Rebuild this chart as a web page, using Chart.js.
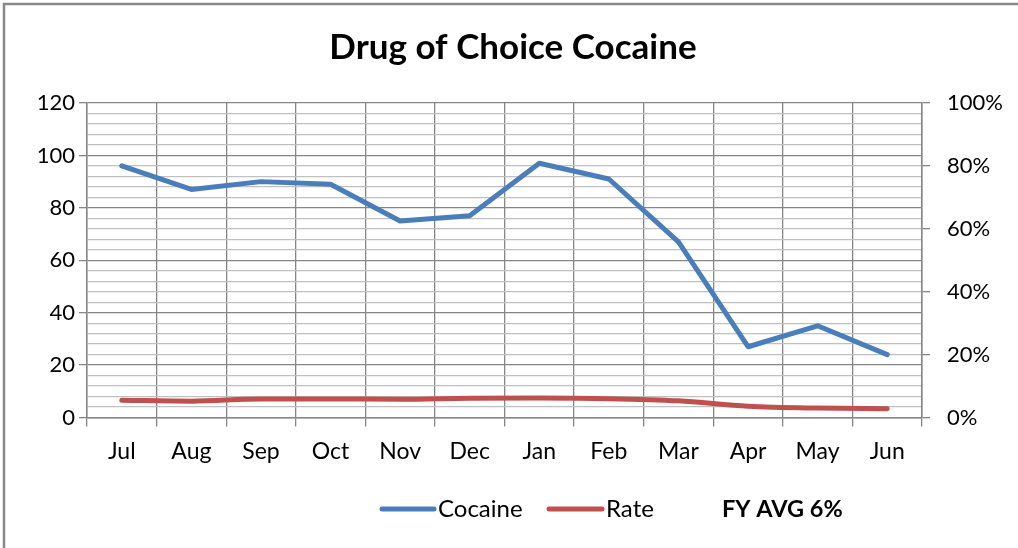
<!DOCTYPE html>
<html>
<head>
<meta charset="utf-8">
<script src="https://cdn.jsdelivr.net/npm/chart.js@4/dist/chart.umd.min.js"></script>
<style>
  html, body { margin: 0; padding: 0; background: #fff; }
  #wrap { position: relative; width: 1018px; height: 548px; }
  canvas { display: block; }
</style>
</head>
<body>
<div id="wrap"><canvas id="c" width="1018" height="548"></canvas></div>
<script>
const months = ["Jul", "Aug", "Sep", "Oct", "Nov", "Dec", "Jan", "Feb", "Mar", "Apr", "May", "Jun"];
const cocaine = [96, 87, 90, 89, 75, 77, 97, 91, 67, 27, 35, 24];
const ratePct = [5.5, 5.2, 5.9, 5.9, 5.8, 6.1, 6.2, 6.0, 5.3, 3.6, 3.0, 2.8];
const chartTitle = "Drug of Choice Cocaine";
const legendNote = "FY AVG 6%";
const seriesNames = ["Cocaine", "Rate"];

const FONT = "Lato, 'Open Sans', sans-serif";
const BLUE = "#4a7ebb";
const RED = "#c0504d";
const MAJOR = "#868686";
const MINOR = "#c0c0c0";

const decor = {
  id: "decor",
  beforeDraw(chart) {
    const ctx = chart.ctx;
    ctx.save();
    ctx.fillStyle = "#fff";
    ctx.fillRect(0, 0, chart.width, chart.height);
    ctx.strokeStyle = "#888";
    ctx.lineWidth = 2.5;
    ctx.beginPath();
    ctx.moveTo(4, chart.height + 5);
    ctx.lineTo(4, 4);
    ctx.lineTo(chart.width + 5, 4);
    ctx.stroke();
    ctx.restore();
  },
  afterDraw(chart) {
    const ctx = chart.ctx;
    ctx.save();
    ctx.fillStyle = "#000";
    ctx.textBaseline = "middle";
    ctx.textAlign = "center";
    ctx.font = "bold 35px " + FONT;
    ctx.fillText(chartTitle, 513, 48);
    const ly = 509;
    ctx.lineCap = "round";
    ctx.lineWidth = 5;
    ctx.strokeStyle = BLUE;
    ctx.beginPath(); ctx.moveTo(382, ly); ctx.lineTo(434, ly); ctx.stroke();
    ctx.strokeStyle = RED;
    ctx.beginPath(); ctx.moveTo(549, ly); ctx.lineTo(602, ly); ctx.stroke();
    ctx.textAlign = "left";
    ctx.font = "24px " + FONT;
    ctx.fillText(seriesNames[0], 438, ly);
    ctx.fillText(seriesNames[1], 606, ly);
    ctx.font = "bold 23.5px " + FONT;
    ctx.fillText(legendNote, 722, ly);
    ctx.restore();
  }
};

new Chart(document.getElementById("c"), {
  type: "line",
  data: {
    labels: months,
    datasets: [
      { label: seriesNames[0], data: cocaine, yAxisID: "y", borderColor: BLUE, backgroundColor: BLUE,
        borderWidth: 5, pointRadius: 0, tension: 0, borderCapStyle: "round", borderJoinStyle: "round" },
      { label: seriesNames[1], data: ratePct, yAxisID: "y1", borderColor: RED, backgroundColor: RED,
        borderWidth: 5, pointRadius: 0, tension: 0.4, cubicInterpolationMode: "monotone", borderCapStyle: "round" }
    ]
  },
  options: {
    responsive: false,
    animation: false,
    layout: { padding: { top: 103, left: 0, right: 0, bottom: 0 } },
    plugins: { legend: { display: false }, title: { display: false }, tooltip: { enabled: false } },
    scales: {
      x: {
        offset: true,
        afterFit(s) { s.height = 130.5; },
        grid: { offset: true, color: MAJOR, tickColor: MAJOR, tickLength: 9, lineWidth: 1.3 },
        border: { color: MAJOR, width: 1.5 },
        ticks: { color: "#000", font: { family: FONT, size: 23 }, padding: 11, maxRotation: 0 }
      },
      y: {
        position: "left",
        min: 0, max: 120,
        afterFit(s) { s.width = 87; },
        afterBuildTicks(s) {
          const t = [];
          for (let v = 0; v <= 120; v += 4) t.push({ value: v });
          s.ticks = t;
        },
        grid: {
          color: c => (c.tick && c.tick.value % 20 === 0) ? MAJOR : MINOR,
          tickColor: c => (c.tick && c.tick.value % 20 === 0) ? MAJOR : "rgba(0,0,0,0)",
          lineWidth: 1.3,
          tickLength: 8
        },
        border: { color: MAJOR, width: 1.5 },
        ticks: {
          color: "#000", font: { family: FONT, size: 22 }, padding: 4,
          autoSkip: false,
          callback: v => (v % 20 === 0 ? String(v) : "")
        }
      },
      y1: {
        position: "right",
        min: 0, max: 100,
        afterFit(s) { s.width = 96; },
        grid: { drawOnChartArea: false, color: MAJOR, tickColor: MAJOR, tickLength: 8, lineWidth: 1.3 },
        border: { color: MAJOR, width: 1.5 },
        ticks: { stepSize: 20, color: "#000", font: { family: FONT, size: 22 }, padding: 17,
          callback: v => v + "%" }
      }
    }
  },
  plugins: [decor]
});
</script>
</body>
</html>
